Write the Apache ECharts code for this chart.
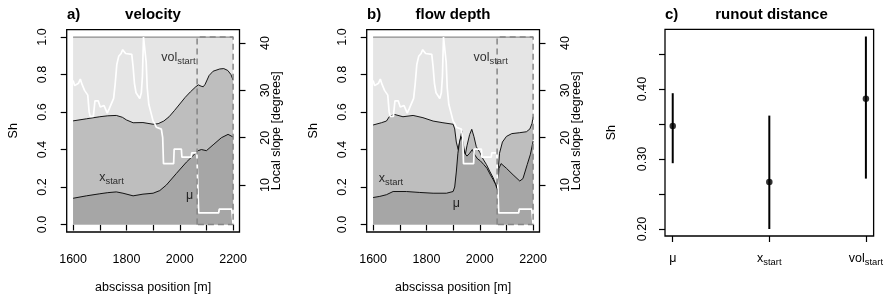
<!DOCTYPE html>
<html><head><meta charset="utf-8">
<script src="https://cdn.jsdelivr.net/npm/echarts@6/dist/echarts.min.js"></script>
<style>html,body{margin:0;padding:0;background:#fff}#c{width:886px;height:299px}</style>
</head><body><div id="c"></div>
<script>
// ---------- data ----------
const slopeX = [1600,1606,1612,1620,1627,1634,1643,1655,1660,1664,1676,1682,1694,1702,1709,1716,1722,1728,1736,1742,1752,1758,1764,1771,1780,1786,1791,1797,1803,1820,1825,1830,1836,1850,1856,1860,1864,1871,1874,1878,1884,1892,1900,1906,1912,1931,1936,1939,1977,1979,2006,2008,2043,2045,2064,2071,2146,2148,2195,2200];
const slopeDeg = [32.1,31.0,30.7,31.5,32.4,31.2,30.0,29.0,25.5,24.5,24.5,27.8,27.8,26.5,26.2,26.8,26.4,25.2,26.2,27.0,28.3,31.5,35.5,37.2,37.8,38.6,38.8,37.8,37.6,37.6,35.0,31.5,29.5,28.3,29.5,33.0,41.27,41.27,36.0,30.5,27.0,25.3,23.5,23.0,22.2,21.8,20.0,14.5,14.5,17.6,17.6,15.9,15.9,16.8,16.8,4.1,4.1,4.9,4.9,1.7];

const velUpperX = [1600,1650,1700,1730,1762,1785,1800,1825,1862,1900,1919,1940,1960,1980,2000,2020,2040,2060,2070,2080,2088,2095,2110,2125,2150,2165,2180,2192,2200];
const velUpperSh = [0.553,0.564,0.575,0.580,0.582,0.572,0.558,0.543,0.544,0.535,0.538,0.552,0.575,0.608,0.643,0.678,0.708,0.735,0.745,0.738,0.735,0.748,0.795,0.818,0.830,0.832,0.822,0.800,0.770];
const velLowerX = [1600,1650,1700,1730,1762,1787,1825,1862,1900,1925,1950,1987,2025,2056,2069,2081,2100,2125,2156,2181,2200];
const velLowerSh = [0.140,0.153,0.164,0.170,0.174,0.167,0.153,0.162,0.167,0.181,0.211,0.272,0.333,0.376,0.394,0.400,0.394,0.425,0.463,0.481,0.467];

const depthUpperX = [1600,1631,1650,1662,1681,1712,1750,1787,1825,1862,1900,1906,1912,1919,1926,1933,1938,1944,1952,1962,1970,1978,1987,2000,2012,2025,2037,2050,2058,2064,2068,2074,2085,2100,2120,2150,2175,2188,2196,2200];
const depthUpperSh = [0.531,0.543,0.552,0.578,0.587,0.575,0.582,0.570,0.552,0.543,0.535,0.510,0.440,0.400,0.450,0.500,0.420,0.360,0.420,0.480,0.508,0.470,0.415,0.385,0.350,0.320,0.285,0.250,0.220,0.195,0.190,0.380,0.440,0.470,0.485,0.490,0.495,0.510,0.540,0.575];
const depthLowerX = [1600,1625,1650,1675,1725,1775,1825,1875,1900,1906,1912,1918,1924,1930,1937,1944,1952,1962,1972,1982,1992,2002,2015,2027,2040,2050,2059,2066,2072,2080,2100,2125,2150,2162,2178,2190,2200];
const depthLowerSh = [0.144,0.150,0.159,0.176,0.176,0.171,0.167,0.167,0.176,0.200,0.280,0.380,0.440,0.470,0.440,0.380,0.365,0.380,0.400,0.370,0.350,0.340,0.320,0.300,0.265,0.240,0.215,0.185,0.300,0.325,0.300,0.265,0.232,0.245,0.320,0.375,0.445];

const totalX = [1600, 2200];
const totalSh = [1, 1];
const volZoneX = [2065, 2065, 2200, 2200, 2065];
const volZoneSh = [0, 1, 1, 0, 0];

const xTicks = [1600,1700,1800,1900,2000,2100,2200];
const xTickLabels = [1600,1800,2000,2200];
const shTicks = [0,0.2,0.4,0.6,0.8,1.0];
const slopeTicks = [10,20,30,40];

const labelNames = ['vol', 'x', 'mu'];
const labelPosA = [[1995, 0.885], [1744, 0.245], [2037, 0.15]];
const labelPosB = [[2041, 0.885], [1667, 0.24], [1912, 0.107]];

const runoutCats = ['mu', 'x', 'vol'];
const runoutMean = [0.347, 0.267, 0.386];
const runoutLow = [0.294, 0.200, 0.272];
const runoutHigh = [0.394, 0.362, 0.475];
const runoutTicks = [0.20,0.25,0.30,0.35,0.40,0.45];
const runoutTickLabels = [0.20,0.30,0.40];

// ---------- helpers ----------
const FONT = 'Liberation Sans, Arial, Helvetica, sans-serif';
const zip = (a, b) => a.map((v, i) => [v, b[i]]);
const richSub = {
  n: {fontSize: 12.5, fontFamily: FONT, color: '#000', lineHeight: 15, verticalAlign: 'top'},
  s: {fontSize: 9.4, fontFamily: FONT, color: '#000', lineHeight: 10, padding: [6, 0, 0, 0], verticalAlign: 'top'}
};
function labelText(key) {
  if (key === 'vol') return '{n|vol}{s|start}';
  if (key === 'x') return '{n|x}{s|start}';
  return '{n|\u03bc}';
}
const COL_MU = '#a6a6a6', COL_X = '#bebebe', COL_VOL = '#e5e5e5';
const BORDER_W = 1.3;
const nameStyle = {color: '#000', fontSize: 12.5, fontFamily: FONT};

function xAxisPanel(grid) {
  return {
    type: 'value', gridIndex: grid, min: 1576, max: 2224,
    axisLine: {show: false}, splitLine: {show: false},
    axisTick: {show: true, length: 6, customValues: xTicks, lineStyle: {color: '#000', width: 1.2}},
    axisLabel: {customValues: xTickLabels, formatter: v => String(v), color: '#000', fontSize: 12.5, fontFamily: FONT, margin: 21},
    name: 'abscissa position [m]', nameLocation: 'middle', nameGap: 49, nameMoveOverlap: false,
    nameTextStyle: nameStyle
  };
}
function shAxis(grid) {
  return {
    type: 'value', gridIndex: grid, position: 'left', min: -0.04, max: 1.04,
    axisLine: {show: false}, splitLine: {show: false},
    axisTick: {show: true, length: 6, customValues: shTicks, lineStyle: {color: '#000', width: 1.2}},
    axisLabel: {customValues: shTicks, rotate: 90, formatter: v => v.toFixed(1), color: '#000', fontSize: 12.5, fontFamily: FONT, margin: 18},
    name: 'Sh', nameLocation: 'middle', nameGap: 47, nameMoveOverlap: false,
    nameTextStyle: nameStyle
  };
}
function slopeAxis(grid) {
  return {
    type: 'value', gridIndex: grid, position: 'right', min: 0.06, max: 42.85,
    axisLine: {show: false}, splitLine: {show: false},
    axisTick: {show: true, length: 6, customValues: slopeTicks, lineStyle: {color: '#000', width: 1.2}},
    axisLabel: {customValues: slopeTicks, rotate: 90, color: '#000', fontSize: 12.5, fontFamily: FONT, margin: 20},
    name: 'Local slope [degrees]', nameLocation: 'middle', nameGap: 30.5, nameRotate: 90, nameMoveOverlap: false,
    nameTextStyle: nameStyle
  };
}
function panelSeries(xi, yi, yr, upX, upY, loX, loY, labPos) {
  const base = {type: 'line', xAxisIndex: xi, yAxisIndex: yi, symbol: 'none', silent: true, animation: false};
  return [
    Object.assign({}, base, {data: zip(totalX, totalSh), z: 1,
      lineStyle: {color: '#8c8c8c', width: 1.2}, areaStyle: {color: COL_VOL, opacity: 1}}),
    Object.assign({}, base, {data: zip(upX, upY), z: 2,
      lineStyle: {color: '#000', width: 0.9}, areaStyle: {color: COL_X, opacity: 1}}),
    Object.assign({}, base, {data: zip(loX, loY), z: 3,
      lineStyle: {color: '#000', width: 0.9}, areaStyle: {color: COL_MU, opacity: 1}}),
    Object.assign({}, base, {yAxisIndex: yr, data: zip(slopeX, slopeDeg), z: 4,
      lineStyle: {color: '#fff', width: 1.7}}),
    Object.assign({}, base, {data: zip(volZoneX, volZoneSh), z: 5,
      lineStyle: {color: '#858585', width: 1.5, type: [6, 4]}}),
    {type: 'scatter', xAxisIndex: xi, yAxisIndex: yi, symbolSize: 0, z: 6, silent: true, animation: false,
      data: labPos.map((p, i) => ({value: p, name: labelNames[i]})),
      label: {show: true, position: 'inside', formatter: p => labelText(p.name), rich: richSub}}
  ];
}

// ---------- chart ----------
const chart = echarts.init(document.getElementById('c'), null, {renderer: 'canvas'});
const gridA = {left: 66.7, top: 29.6, width: 172.8, height: 206.8, show: true, borderColor: '#000', borderWidth: BORDER_W, backgroundColor: 'transparent'};
const option = {
  animation: false,
  backgroundColor: '#fff',
  grid: [
    Object.assign({}, gridA),
    Object.assign({}, gridA, {left: 366.7}),
    {left: 665, top: 29.3, width: 213, height: 206.7, show: true, borderColor: '#000', borderWidth: BORDER_W, backgroundColor: 'transparent'}
  ],
  xAxis: [
    xAxisPanel(0),
    xAxisPanel(1),
    {
      type: 'value', gridIndex: 2, min: 0.92, max: 3.08,
      axisLine: {show: false}, splitLine: {show: false},
      axisTick: {show: true, length: 6, customValues: [1, 2, 3], lineStyle: {color: '#000', width: 1.2}},
      axisLabel: {customValues: [1, 2, 3], formatter: v => labelText(runoutCats[Math.round(v) - 1]), rich: richSub, margin: 16},
    }
  ],
  yAxis: [
    shAxis(0), slopeAxis(0), shAxis(1), slopeAxis(1),
    {
      type: 'value', gridIndex: 2, position: 'left', min: 0.19, max: 0.4853,
      axisLine: {show: false}, splitLine: {show: false},
      axisTick: {show: true, length: 6, customValues: runoutTicks, lineStyle: {color: '#000', width: 1.2}},
      axisLabel: {customValues: runoutTickLabels, rotate: 90, formatter: v => v.toFixed(2), color: '#000', fontSize: 12.5, fontFamily: FONT, margin: 16},
      name: 'Sh', nameLocation: 'middle', nameGap: 47, nameMoveOverlap: false,
      nameTextStyle: nameStyle
    }
  ],
  series: [].concat(
    panelSeries(0, 0, 1, velUpperX, velUpperSh, velLowerX, velLowerSh, labelPosA),
    panelSeries(1, 2, 3, depthUpperX, depthUpperSh, depthLowerX, depthLowerSh, labelPosB),
    [
      {
        type: 'custom', xAxisIndex: 2, yAxisIndex: 4, silent: true, animation: false,
        data: runoutCats.map((c, i) => [i + 1, runoutLow[i], runoutHigh[i]]),
        renderItem: (params, api) => {
          const a = api.coord([api.value(0), api.value(1)]);
          const b = api.coord([api.value(0), api.value(2)]);
          return {type: 'line', shape: {x1: a[0], y1: a[1], x2: b[0], y2: b[1]}, style: {stroke: '#000', lineWidth: 2}};
        }
      },
      {
        type: 'scatter', xAxisIndex: 2, yAxisIndex: 4, symbolSize: 6.5, silent: true, animation: false,
        itemStyle: {color: '#000'},
        data: runoutMean.map((m, i) => [i + 1, m])
      }
    ]
  ),
  graphic: [
    {type: 'text', x: 67, y: 15, style: {text: 'a)', font: 'bold 15px ' + FONT, fill: '#000', align: 'left', verticalAlign: 'middle', textAlign: 'left', textVerticalAlign: 'middle'}},
    {type: 'text', x: 153, y: 15, style: {text: 'velocity', font: 'bold 15px ' + FONT, fill: '#000', align: 'center', verticalAlign: 'middle', textAlign: 'center', textVerticalAlign: 'middle'}},
    {type: 'text', x: 367, y: 15, style: {text: 'b)', font: 'bold 15px ' + FONT, fill: '#000', align: 'left', verticalAlign: 'middle', textAlign: 'left', textVerticalAlign: 'middle'}},
    {type: 'text', x: 453, y: 15, style: {text: 'flow depth', font: 'bold 15px ' + FONT, fill: '#000', align: 'center', verticalAlign: 'middle', textAlign: 'center', textVerticalAlign: 'middle'}},
    {type: 'text', x: 665, y: 15, style: {text: 'c)', font: 'bold 15px ' + FONT, fill: '#000', align: 'left', verticalAlign: 'middle', textAlign: 'left', textVerticalAlign: 'middle'}},
    {type: 'text', x: 771.5, y: 15, style: {text: 'runout distance', font: 'bold 15px ' + FONT, fill: '#000', align: 'center', verticalAlign: 'middle', textAlign: 'center', textVerticalAlign: 'middle'}}
  ]
};
chart.setOption(option);
</script>
</body></html>
